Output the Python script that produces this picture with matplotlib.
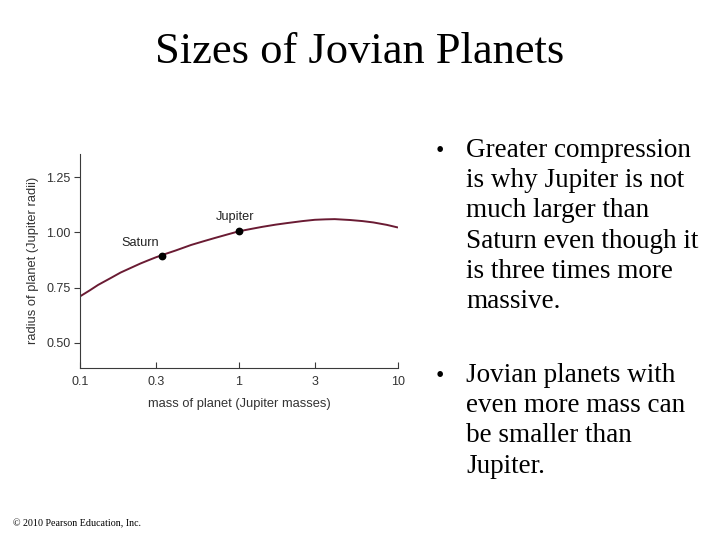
import matplotlib
matplotlib.use("Agg")
import matplotlib.pyplot as plt
from matplotlib.ticker import FixedLocator, FixedFormatter, NullLocator

# curve
mass = [0.1, 0.115, 0.13, 0.155, 0.18, 0.21, 0.24, 0.27, 0.3, 0.35, 0.4, 0.5, 0.6, 0.7, 0.85,
        1.0, 1.2, 1.4, 1.7, 2.0, 2.5, 3.0, 3.5, 4.0, 5.0, 6.0, 7.0, 8.5, 10.0]
radius = [0.71, 0.737, 0.762, 0.792, 0.818, 0.84, 0.859, 0.874, 0.887, 0.904, 0.918, 0.943,
          0.96, 0.974, 0.991, 1.005, 1.016, 1.025, 1.035, 1.042, 1.051, 1.057, 1.059, 1.06,
          1.056, 1.051, 1.045, 1.034, 1.022]

planet_names = ["Saturn", "Jupiter"]
planet_mass = [0.33, 1.0]
planet_radius = [0.893, 1.008]

x_ticks = [0.1, 0.3, 1, 3, 10]
x_tick_labels = ["0.1", "0.3", "1", "3", "10"]
y_ticks = [0.50, 0.75, 1.00, 1.25]
y_tick_labels = ["0.50", "0.75", "1.00", "1.25"]

bullet1 = ["Greater compression", "is why Jupiter is not", "much larger than",
           "Saturn even though it", "is three times more", "massive."]
bullet2 = ["Jovian planets with", "even more mass can", "be smaller than", "Jupiter."]

SERIF = ["Liberation Serif", "DejaVu Serif"]
SANS = ["Liberation Sans", "DejaVu Sans"]
GREY = "#3a3a3a"
W, H = 720, 540

fig = plt.figure(figsize=(7.2, 5.4), dpi=100, facecolor="white")

def fx(px): return px / W
def fy(py): return 1 - py / H

fig.text(fx(360), fy(63), "Sizes of Jovian Planets", family=SERIF, fontsize=32,
         ha="center", va="baseline")

ax = fig.add_axes([fx(80), fy(367.7), fx(398) - fx(80), fy(154) - fy(367.7)])
ax.set_xscale("log")
ax.set_xlim(0.1, 10)
ax.set_ylim(0.387, 1.355)
ax.plot(mass, radius, color="#6a1b33", lw=1.4, solid_capstyle="butt", zorder=2)
ax.plot(planet_mass, planet_radius, "o", color="black", ms=4.6, zorder=3)
ax.annotate(planet_names[0], (planet_mass[0], planet_radius[0]), xytext=(-16, 9),
            textcoords="offset points", ha="center", va="center",
            family=SANS, fontsize=9.2, color="#222")
ax.annotate(planet_names[1], (planet_mass[1], planet_radius[1]), xytext=(-2.5, 9.5),
            textcoords="offset points", ha="center", va="center",
            family=SANS, fontsize=9.2, color="#222")

for s in ["top", "right"]:
    ax.spines[s].set_visible(False)
for s in ["left", "bottom"]:
    ax.spines[s].set_color(GREY)
    ax.spines[s].set_linewidth(0.8)

ax.xaxis.set_major_locator(FixedLocator(x_ticks))
ax.xaxis.set_major_formatter(FixedFormatter(x_tick_labels))
ax.xaxis.set_minor_locator(NullLocator())
ax.set_yticks(y_ticks)
ax.set_yticklabels(y_tick_labels)
ax.tick_params(axis="x", direction="in", length=4, width=0.8, color=GREY, pad=6,
               labelsize=9, labelcolor="#333")
ax.tick_params(axis="y", direction="out", length=4, width=0.8, color=GREY, pad=3,
               labelsize=9, labelcolor="#333")
for lab in ax.get_xticklabels() + ax.get_yticklabels():
    lab.set_family(SANS)
ax.set_xlabel("mass of planet (Jupiter masses)", family=SANS, fontsize=9.3,
              color="#333", labelpad=7)
ax.set_ylabel("radius of planet (Jupiter radii)", family=SANS, fontsize=9.3,
              color="#333", labelpad=5)

def bullet(lines, y0):
    fig.text(fx(440), fy(y0), "•", family=SERIF, fontsize=17, ha="center", va="baseline")
    for i, line in enumerate(lines):
        fig.text(fx(466), fy(y0 + i * 30.2), line, family=SERIF, fontsize=19.5,
                 ha="left", va="baseline")

bullet(bullet1, 157)
bullet(bullet2, 382)

fig.text(fx(13), fy(526), "© 2010 Pearson Education, Inc.", family=SERIF,
         fontsize=7.2, ha="left", va="baseline")

fig.savefig("out.png", dpi=100, facecolor="white")
